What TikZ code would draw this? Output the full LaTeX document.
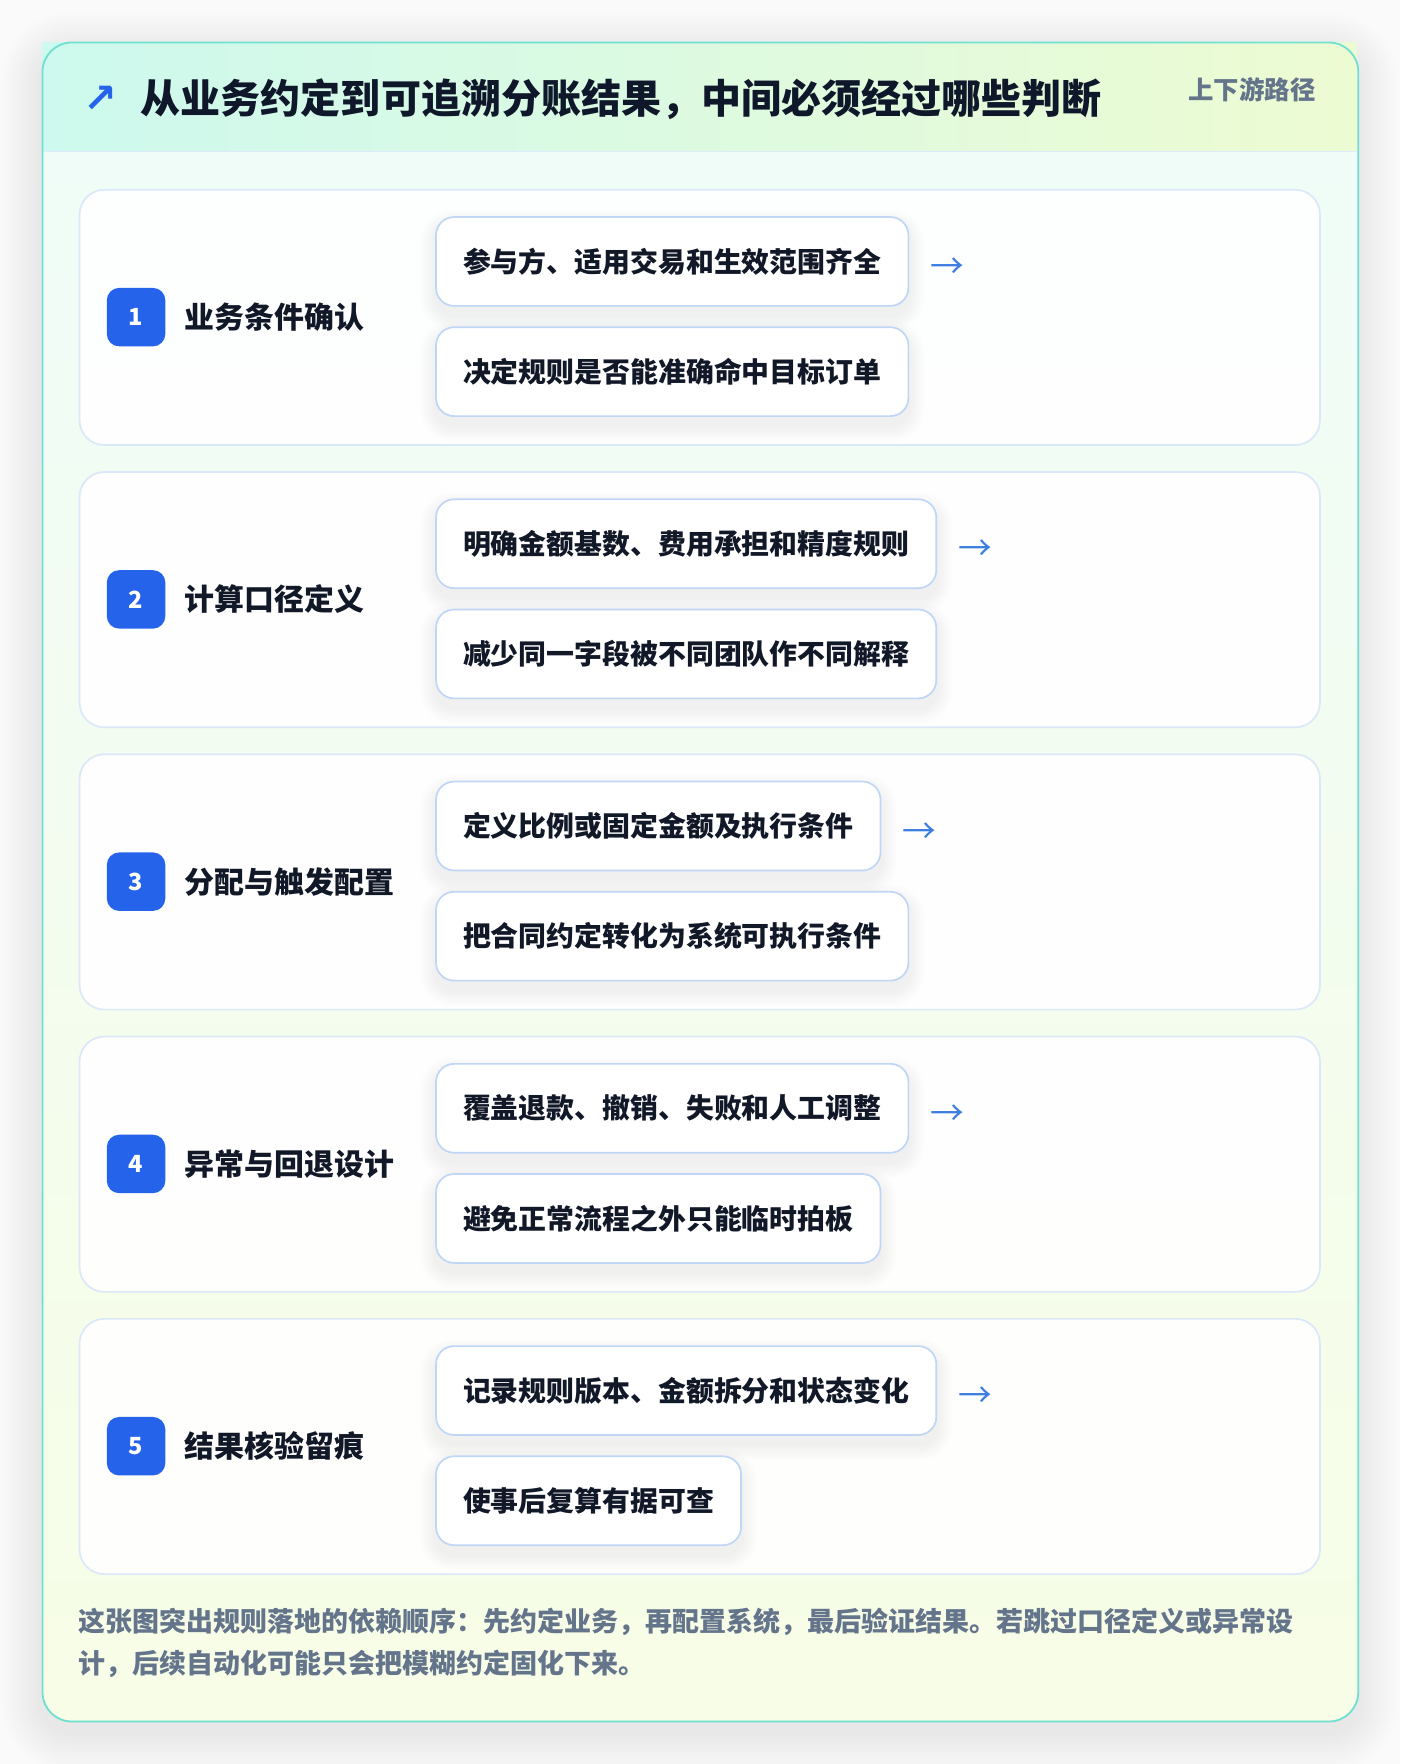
\documentclass[tikz,border=0pt]{standalone}
\usepackage{fontspec}
\setmainfont{Noto Sans CJK SC}
\newfontfamily\symfont{DejaVu Sans}
\usetikzlibrary{calc}
\pgfdeclarelayer{cardlayer}
\pgfdeclarelayer{panellayer}
\pgfdeclarelayer{shadowlayer}
\pgfsetlayers{cardlayer,panellayer,shadowlayer,main}
\definecolor{cardborder}{HTML}{6EE0CF}
\definecolor{headL}{HTML}{CDF9EE}
\definecolor{headR}{HTML}{EDFBD2}
\definecolor{bodyT}{HTML}{EFFCF8}
\definecolor{bodyB}{HTML}{F7FDE6}
\definecolor{sepline}{HTML}{DCEAFB}
\definecolor{panelborder}{HTML}{DBE8FA}
\definecolor{boxborder}{HTML}{BFD6F6}
\definecolor{badgeblue}{HTML}{2563EB}
\definecolor{arrowblue}{HTML}{3B7DE0}
\definecolor{titleink}{HTML}{0F172A}
\definecolor{ink}{HTML}{111827}
\definecolor{muted}{HTML}{64748B}
\definecolor{pagebg}{HTML}{FAFAFB}
\definecolor{shadowink}{HTML}{1E293B}
\tikzset{
  cardfill/.style={rounded corners=26pt, inner sep=0pt, top color=bodyT, bottom color=bodyB},
  cardline/.style={draw=cardborder, line width=1.6pt, rounded corners=26pt, inner sep=0pt},
  panel/.style={draw=panelborder, line width=1.5pt, rounded corners=22pt, fill=white, fill opacity=0.9, draw opacity=1, inner sep=0pt},
  badge/.style={fill=badgeblue, rounded corners=11pt, minimum width=52pt, minimum height=52pt, inner sep=0pt,
    text=white, font=\fontsize{21pt}{24pt}\selectfont\bfseries},
  steplabel/.style={anchor=west, inner sep=0pt, text=ink, font=\fontsize{26.6pt}{30pt}\selectfont\bfseries},
  subbox/.style={draw=boxborder, line width=1.5pt, rounded corners=16pt, fill=white, anchor=west,
    inner xsep=24pt, inner ysep=0pt, minimum height=79pt, text=ink,
    font=\fontsize{24.8pt}{30pt}\selectfont\bfseries},
  arrowglyph/.style={anchor=west, inner sep=0pt, text=arrowblue, font=\fontsize{30pt}{32pt}\selectfont},
  softshade/.style={fill=shadowink, fill opacity=#1},
}
\begin{document}
\begin{tikzpicture}[x=1pt, y=1pt]
\useasboundingbox (0,0) rectangle (1245,-1568.6);
\begin{pgfonlayer}{cardlayer}
\fill[pagebg] (0,0) rectangle (1245,-1568.6);
% card shadow
\foreach \k in {2,4,...,36}{
  \fill[softshade=0.0045, rounded corners=26pt+\k pt]
    (37-\k,-37-10+\k) rectangle (1207+\k,-1530-10-\k);
}
% card
\node[cardfill, minimum width=1170pt, minimum height=1493pt, anchor=north west] (card) at (37,-37) {};
\node[left color=headL, right color=headR, minimum width=1168.4pt, minimum height=96.4pt,
  inner sep=0pt, anchor=north west] (head) at (37.8,-37.8) {};
\draw[sepline, line width=1.5pt] (head.south west) -- (head.south east);
\node[cardline, minimum width=1170pt, minimum height=1493pt, anchor=north west] (cardedge) at (37,-37) {};
\end{pgfonlayer}
% title
\node[anchor=west, inner sep=0pt, text=badgeblue, font=\symfont\fontsize{36pt}{38pt}\selectfont\bfseries] (icon) at (74,-88) {↗};
\node[anchor=west, inner sep=0pt, text=titleink, font=\fontsize{35.6pt}{40pt}\selectfont\bfseries] (title) at (125,-88) {从业务约定到可追溯分账结果，中间必须经过哪些判断};
\node[anchor=east, inner sep=0pt, text=muted, font=\fontsize{22.6pt}{26pt}\selectfont\bfseries] (tag) at (1170,-80) {上下游路径};
% rows
\foreach \i/\lab/\ta/\tb in {
  1/业务条件确认/参与方、适用交易和生效范围齐全/决定规则是否能准确命中目标订单,
  2/计算口径定义/明确金额基数、费用承担和精度规则/减少同一字段被不同团队作不同解释,
  3/分配与触发配置/定义比例或固定金额及执行条件/把合同约定转化为系统可执行条件,
  4/异常与回退设计/覆盖退款、撤销、失败和人工调整/避免正常流程之外只能临时拍板,
  5/结果核验留痕/记录规则版本、金额拆分和状态变化/使事后复算有据可查}{
  \pgfmathsetmacro{\top}{-(168+(\i-1)*251)}
  \begin{pgfonlayer}{panellayer}
  \node[panel, minimum width=1103pt, minimum height=227pt, anchor=north west] (p\i) at (70,\top) {};
  \end{pgfonlayer}
  \node[badge] (b\i) at (121,\top-114) {\i};
  \node[steplabel] (l\i) at (164,\top-114) {\lab};
  \node[subbox] (s\i a) at (387,\top-64.5) {\ta};
  \node[subbox] (s\i b) at (387,\top-162.5) {\tb};
  \node[arrowglyph, xshift=19pt, yshift=-6pt] (a\i) at (s\i a.east) {→};
  \begin{pgfonlayer}{shadowlayer}
  \foreach \s in {s\i a, s\i b}{
    \foreach \k in {1,2,...,14}{
      \fill[softshade=0.0045, rounded corners=16pt+\k pt]
        ($(\s.south west)+(-\k,-8-\k)$) rectangle ($(\s.north east)+(\k,-8+\k)$);
    }
  }
  \end{pgfonlayer}
}
% footer
\node[anchor=north west, inner sep=0pt, align=left, text=muted, font=\fontsize{24pt}{37pt}\selectfont\bfseries] (note) at (70,-1430)
  {这张图突出规则落地的依赖顺序：先约定业务，再配置系统，最后验证结果。若跳过口径定义或异常设\\计，后续自动化可能只会把模糊约定固化下来。};
\end{tikzpicture}
\end{document}
